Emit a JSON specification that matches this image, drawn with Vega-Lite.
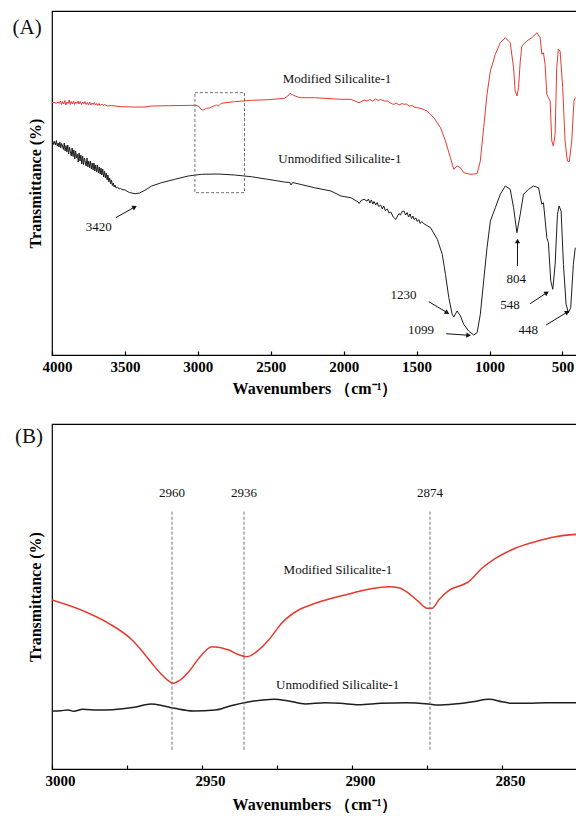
{
  "$schema": "https://vega.github.io/schema/vega-lite/v6.json",
  "padding": {"left": 11, "top": 10, "right": 0, "bottom": 0},
  "background": "white",
  "spacing": 26,
  "config": {
    "view": {"stroke": "#000", "strokeWidth": 1.2},
    "font": "Liberation Serif",
    "axis": {"grid": false, "labelColor": "#000", "titleColor": "#000", "domainColor": "#000", "tickColor": "#000"}
  },
  "datasets": {
    "specA": [
      {"wn": 4000, "t": 252.3, "series": "Modified"}, {"wn": 3985, "t": 252.5, "series": "Modified"}, {"wn": 3970, "t": 251.8, "series": "Modified"}, {"wn": 3958, "t": 253, "series": "Modified"}, {"wn": 3950, "t": 251.5, "series": "Modified"}, {"wn": 3942, "t": 254, "series": "Modified"}, {"wn": 3935, "t": 250.5, "series": "Modified"}, {"wn": 3928, "t": 253.5, "series": "Modified"}, {"wn": 3920, "t": 251, "series": "Modified"}, {"wn": 3912, "t": 254.5, "series": "Modified"}, {"wn": 3905, "t": 250, "series": "Modified"}, {"wn": 3898, "t": 253, "series": "Modified"}, {"wn": 3890, "t": 251.5, "series": "Modified"}, {"wn": 3882, "t": 255, "series": "Modified"}, {"wn": 3875, "t": 250.5, "series": "Modified"}, {"wn": 3868, "t": 253.5, "series": "Modified"}, {"wn": 3860, "t": 251, "series": "Modified"}, {"wn": 3852, "t": 254, "series": "Modified"}, {"wn": 3845, "t": 250.5, "series": "Modified"}, {"wn": 3838, "t": 253, "series": "Modified"}, {"wn": 3830, "t": 251.5, "series": "Modified"}, {"wn": 3822, "t": 254, "series": "Modified"}, {"wn": 3815, "t": 251, "series": "Modified"}, {"wn": 3806, "t": 253.5, "series": "Modified"}, {"wn": 3798, "t": 250.5, "series": "Modified"}, {"wn": 3790, "t": 253, "series": "Modified"}, {"wn": 3782, "t": 251, "series": "Modified"}, {"wn": 3774, "t": 253.5, "series": "Modified"}, {"wn": 3766, "t": 250.5, "series": "Modified"}, {"wn": 3758, "t": 252.5, "series": "Modified"}, {"wn": 3750, "t": 250, "series": "Modified"}, {"wn": 3742, "t": 253, "series": "Modified"}, {"wn": 3734, "t": 250, "series": "Modified"}, {"wn": 3726, "t": 252, "series": "Modified"}, {"wn": 3718, "t": 250.5, "series": "Modified"}, {"wn": 3710, "t": 252.5, "series": "Modified"}, {"wn": 3702, "t": 250, "series": "Modified"}, {"wn": 3694, "t": 251.5, "series": "Modified"}, {"wn": 3686, "t": 249.5, "series": "Modified"}, {"wn": 3678, "t": 251.5, "series": "Modified"}, {"wn": 3670, "t": 249.5, "series": "Modified"}, {"wn": 3660, "t": 251, "series": "Modified"}, {"wn": 3650, "t": 249.5, "series": "Modified"}, {"wn": 3640, "t": 250.5, "series": "Modified"}, {"wn": 3620, "t": 249, "series": "Modified"}, {"wn": 3590, "t": 249.5, "series": "Modified"}, {"wn": 3568, "t": 249, "series": "Modified"}, {"wn": 3522, "t": 248.3, "series": "Modified"}, {"wn": 3431, "t": 248, "series": "Modified"}, {"wn": 3363, "t": 248, "series": "Modified"}, {"wn": 3317, "t": 249, "series": "Modified"}, {"wn": 3203, "t": 249.3, "series": "Modified"}, {"wn": 3021, "t": 249.7, "series": "Modified"}, {"wn": 2995, "t": 249, "series": "Modified"}, {"wn": 2980, "t": 246, "series": "Modified"}, {"wn": 2964, "t": 244.7, "series": "Modified"}, {"wn": 2950, "t": 246, "series": "Modified"}, {"wn": 2941, "t": 246.7, "series": "Modified"}, {"wn": 2920, "t": 247, "series": "Modified"}, {"wn": 2907, "t": 248, "series": "Modified"}, {"wn": 2880, "t": 249.5, "series": "Modified"}, {"wn": 2873, "t": 250, "series": "Modified"}, {"wn": 2861, "t": 248.7, "series": "Modified"}, {"wn": 2839, "t": 251.7, "series": "Modified"}, {"wn": 2748, "t": 253.3, "series": "Modified"}, {"wn": 2634, "t": 254.7, "series": "Modified"}, {"wn": 2520, "t": 255.3, "series": "Modified"}, {"wn": 2406, "t": 256.7, "series": "Modified"}, {"wn": 2383, "t": 259, "series": "Modified"}, {"wn": 2367, "t": 261.7, "series": "Modified"}, {"wn": 2349, "t": 260, "series": "Modified"}, {"wn": 2315, "t": 258, "series": "Modified"}, {"wn": 2292, "t": 257.3, "series": "Modified"}, {"wn": 2201, "t": 257.3, "series": "Modified"}, {"wn": 2019, "t": 255.7, "series": "Modified"}, {"wn": 1951, "t": 255.7, "series": "Modified"}, {"wn": 1894, "t": 252.3, "series": "Modified"}, {"wn": 1860, "t": 255, "series": "Modified"}, {"wn": 1840, "t": 254, "series": "Modified"}, {"wn": 1820, "t": 255.5, "series": "Modified"}, {"wn": 1800, "t": 254, "series": "Modified"}, {"wn": 1780, "t": 256, "series": "Modified"}, {"wn": 1760, "t": 254.5, "series": "Modified"}, {"wn": 1746, "t": 255.5, "series": "Modified"}, {"wn": 1720, "t": 254, "series": "Modified"}, {"wn": 1700, "t": 254, "series": "Modified"}, {"wn": 1680, "t": 252, "series": "Modified"}, {"wn": 1665, "t": 251, "series": "Modified"}, {"wn": 1655, "t": 250.7, "series": "Modified"}, {"wn": 1640, "t": 252, "series": "Modified"}, {"wn": 1620, "t": 250, "series": "Modified"}, {"wn": 1600, "t": 251.5, "series": "Modified"}, {"wn": 1587, "t": 250.7, "series": "Modified"}, {"wn": 1570, "t": 251, "series": "Modified"}, {"wn": 1550, "t": 249, "series": "Modified"}, {"wn": 1530, "t": 249.5, "series": "Modified"}, {"wn": 1518, "t": 248, "series": "Modified"}, {"wn": 1500, "t": 247.5, "series": "Modified"}, {"wn": 1460, "t": 246, "series": "Modified"}, {"wn": 1427, "t": 244, "series": "Modified"}, {"wn": 1382, "t": 237.3, "series": "Modified"}, {"wn": 1336, "t": 227.3, "series": "Modified"}, {"wn": 1302, "t": 214, "series": "Modified"}, {"wn": 1268, "t": 197.3, "series": "Modified"}, {"wn": 1245, "t": 185.7, "series": "Modified"}, {"wn": 1222, "t": 189, "series": "Modified"}, {"wn": 1199, "t": 187.3, "series": "Modified"}, {"wn": 1177, "t": 182.3, "series": "Modified"}, {"wn": 1131, "t": 180.7, "series": "Modified"}, {"wn": 1085, "t": 181.3, "series": "Modified"}, {"wn": 1063, "t": 194, "series": "Modified"}, {"wn": 1040, "t": 227.3, "series": "Modified"}, {"wn": 1017, "t": 260.7, "series": "Modified"}, {"wn": 994, "t": 284, "series": "Modified"}, {"wn": 960, "t": 300.7, "series": "Modified"}, {"wn": 926, "t": 312.3, "series": "Modified"}, {"wn": 892, "t": 317.3, "series": "Modified"}, {"wn": 858, "t": 312.3, "series": "Modified"}, {"wn": 835, "t": 287.3, "series": "Modified"}, {"wn": 824, "t": 264, "series": "Modified"}, {"wn": 812, "t": 259, "series": "Modified"}, {"wn": 801, "t": 267.3, "series": "Modified"}, {"wn": 789, "t": 294, "series": "Modified"}, {"wn": 778, "t": 309, "series": "Modified"}, {"wn": 744, "t": 314, "series": "Modified"}, {"wn": 710, "t": 317.3, "series": "Modified"}, {"wn": 675, "t": 322.3, "series": "Modified"}, {"wn": 653, "t": 317.3, "series": "Modified"}, {"wn": 641, "t": 300.7, "series": "Modified"}, {"wn": 630, "t": 302.3, "series": "Modified"}, {"wn": 619, "t": 290.7, "series": "Modified"}, {"wn": 607, "t": 260.7, "series": "Modified"}, {"wn": 596, "t": 257.3, "series": "Modified"}, {"wn": 584, "t": 254, "series": "Modified"}, {"wn": 573, "t": 214, "series": "Modified"}, {"wn": 562, "t": 209, "series": "Modified"}, {"wn": 550, "t": 220.7, "series": "Modified"}, {"wn": 539, "t": 287.3, "series": "Modified"}, {"wn": 528, "t": 305.7, "series": "Modified"}, {"wn": 516, "t": 304, "series": "Modified"}, {"wn": 498, "t": 267.3, "series": "Modified"}, {"wn": 482, "t": 214, "series": "Modified"}, {"wn": 466, "t": 194, "series": "Modified"}, {"wn": 453, "t": 193.3, "series": "Modified"}, {"wn": 436, "t": 214, "series": "Modified"}, {"wn": 421, "t": 254, "series": "Modified"}, {"wn": 412, "t": 257.3, "series": "Modified"},
      {"wn": 4000, "t": 212, "series": "Unmodified"}, {"wn": 3994, "t": 214, "series": "Unmodified"}, {"wn": 3988, "t": 210.5, "series": "Unmodified"}, {"wn": 3982, "t": 213.5, "series": "Unmodified"}, {"wn": 3976, "t": 210, "series": "Unmodified"}, {"wn": 3970, "t": 214.5, "series": "Unmodified"}, {"wn": 3964, "t": 209, "series": "Unmodified"}, {"wn": 3958, "t": 212, "series": "Unmodified"}, {"wn": 3952, "t": 208, "series": "Unmodified"}, {"wn": 3946, "t": 213, "series": "Unmodified"}, {"wn": 3940, "t": 207, "series": "Unmodified"}, {"wn": 3934, "t": 211.5, "series": "Unmodified"}, {"wn": 3928, "t": 209, "series": "Unmodified"}, {"wn": 3922, "t": 205.5, "series": "Unmodified"}, {"wn": 3916, "t": 212, "series": "Unmodified"}, {"wn": 3910, "t": 204, "series": "Unmodified"}, {"wn": 3904, "t": 209.5, "series": "Unmodified"}, {"wn": 3898, "t": 203, "series": "Unmodified"}, {"wn": 3892, "t": 210, "series": "Unmodified"}, {"wn": 3886, "t": 201, "series": "Unmodified"}, {"wn": 3880, "t": 208, "series": "Unmodified"}, {"wn": 3874, "t": 203, "series": "Unmodified"}, {"wn": 3868, "t": 199, "series": "Unmodified"}, {"wn": 3862, "t": 207, "series": "Unmodified"}, {"wn": 3856, "t": 198.5, "series": "Unmodified"}, {"wn": 3850, "t": 205, "series": "Unmodified"}, {"wn": 3844, "t": 196, "series": "Unmodified"}, {"wn": 3838, "t": 204, "series": "Unmodified"}, {"wn": 3832, "t": 197, "series": "Unmodified"}, {"wn": 3826, "t": 201, "series": "Unmodified"}, {"wn": 3820, "t": 193, "series": "Unmodified"}, {"wn": 3814, "t": 202, "series": "Unmodified"}, {"wn": 3808, "t": 194, "series": "Unmodified"}, {"wn": 3802, "t": 200, "series": "Unmodified"}, {"wn": 3796, "t": 191, "series": "Unmodified"}, {"wn": 3790, "t": 199, "series": "Unmodified"}, {"wn": 3784, "t": 190, "series": "Unmodified"}, {"wn": 3778, "t": 197, "series": "Unmodified"}, {"wn": 3772, "t": 193, "series": "Unmodified"}, {"wn": 3766, "t": 189, "series": "Unmodified"}, {"wn": 3760, "t": 197, "series": "Unmodified"}, {"wn": 3754, "t": 188, "series": "Unmodified"}, {"wn": 3748, "t": 194, "series": "Unmodified"}, {"wn": 3742, "t": 187, "series": "Unmodified"}, {"wn": 3736, "t": 194, "series": "Unmodified"}, {"wn": 3730, "t": 186, "series": "Unmodified"}, {"wn": 3724, "t": 192, "series": "Unmodified"}, {"wn": 3718, "t": 185, "series": "Unmodified"}, {"wn": 3712, "t": 192, "series": "Unmodified"}, {"wn": 3706, "t": 184, "series": "Unmodified"}, {"wn": 3700, "t": 190, "series": "Unmodified"}, {"wn": 3694, "t": 183, "series": "Unmodified"}, {"wn": 3688, "t": 190, "series": "Unmodified"}, {"wn": 3682, "t": 182, "series": "Unmodified"}, {"wn": 3676, "t": 188, "series": "Unmodified"}, {"wn": 3670, "t": 181, "series": "Unmodified"}, {"wn": 3664, "t": 187, "series": "Unmodified"}, {"wn": 3658, "t": 180, "series": "Unmodified"}, {"wn": 3652, "t": 186, "series": "Unmodified"}, {"wn": 3646, "t": 178, "series": "Unmodified"}, {"wn": 3640, "t": 184, "series": "Unmodified"}, {"wn": 3634, "t": 177, "series": "Unmodified"}, {"wn": 3628, "t": 182, "series": "Unmodified"}, {"wn": 3622, "t": 175, "series": "Unmodified"}, {"wn": 3616, "t": 180, "series": "Unmodified"}, {"wn": 3610, "t": 173, "series": "Unmodified"}, {"wn": 3604, "t": 177, "series": "Unmodified"}, {"wn": 3598, "t": 171, "series": "Unmodified"}, {"wn": 3592, "t": 175, "series": "Unmodified"}, {"wn": 3586, "t": 169.5, "series": "Unmodified"}, {"wn": 3580, "t": 172, "series": "Unmodified"}, {"wn": 3574, "t": 168, "series": "Unmodified"}, {"wn": 3568, "t": 170, "series": "Unmodified"}, {"wn": 3560, "t": 167, "series": "Unmodified"}, {"wn": 3550, "t": 168, "series": "Unmodified"}, {"wn": 3540, "t": 166, "series": "Unmodified"}, {"wn": 3530, "t": 166.5, "series": "Unmodified"}, {"wn": 3520, "t": 165.5, "series": "Unmodified"}, {"wn": 3499, "t": 165, "series": "Unmodified"}, {"wn": 3470, "t": 162.5, "series": "Unmodified"}, {"wn": 3431, "t": 161.3, "series": "Unmodified"}, {"wn": 3400, "t": 162, "series": "Unmodified"}, {"wn": 3363, "t": 164.7, "series": "Unmodified"}, {"wn": 3317, "t": 169, "series": "Unmodified"}, {"wn": 3249, "t": 172.3, "series": "Unmodified"}, {"wn": 3158, "t": 175.7, "series": "Unmodified"}, {"wn": 3066, "t": 179, "series": "Unmodified"}, {"wn": 2975, "t": 180.7, "series": "Unmodified"}, {"wn": 2861, "t": 181, "series": "Unmodified"}, {"wn": 2748, "t": 180, "series": "Unmodified"}, {"wn": 2634, "t": 178.3, "series": "Unmodified"}, {"wn": 2520, "t": 175.7, "series": "Unmodified"}, {"wn": 2406, "t": 173, "series": "Unmodified"}, {"wn": 2370, "t": 172.5, "series": "Unmodified"}, {"wn": 2361, "t": 170, "series": "Unmodified"}, {"wn": 2350, "t": 172.5, "series": "Unmodified"}, {"wn": 2292, "t": 170.5, "series": "Unmodified"}, {"wn": 2201, "t": 167.3, "series": "Unmodified"}, {"wn": 2087, "t": 164, "series": "Unmodified"}, {"wn": 2019, "t": 159, "series": "Unmodified"}, {"wn": 1951, "t": 157.3, "series": "Unmodified"}, {"wn": 1900, "t": 153, "series": "Unmodified"}, {"wn": 1894, "t": 151.5, "series": "Unmodified"}, {"wn": 1880, "t": 154.5, "series": "Unmodified"}, {"wn": 1860, "t": 155.7, "series": "Unmodified"}, {"wn": 1840, "t": 154, "series": "Unmodified"}, {"wn": 1830, "t": 156, "series": "Unmodified"}, {"wn": 1820, "t": 152, "series": "Unmodified"}, {"wn": 1810, "t": 155, "series": "Unmodified"}, {"wn": 1800, "t": 151, "series": "Unmodified"}, {"wn": 1792, "t": 153.5, "series": "Unmodified"}, {"wn": 1780, "t": 150, "series": "Unmodified"}, {"wn": 1770, "t": 152.5, "series": "Unmodified"}, {"wn": 1760, "t": 148.5, "series": "Unmodified"}, {"wn": 1746, "t": 150, "series": "Unmodified"}, {"wn": 1735, "t": 146, "series": "Unmodified"}, {"wn": 1725, "t": 149, "series": "Unmodified"}, {"wn": 1715, "t": 144.5, "series": "Unmodified"}, {"wn": 1700, "t": 146, "series": "Unmodified"}, {"wn": 1690, "t": 142, "series": "Unmodified"}, {"wn": 1677, "t": 143, "series": "Unmodified"}, {"wn": 1660, "t": 138, "series": "Unmodified"}, {"wn": 1643, "t": 135.7, "series": "Unmodified"}, {"wn": 1630, "t": 139, "series": "Unmodified"}, {"wn": 1621, "t": 141.5, "series": "Unmodified"}, {"wn": 1610, "t": 140, "series": "Unmodified"}, {"wn": 1600, "t": 143.5, "series": "Unmodified"}, {"wn": 1587, "t": 144, "series": "Unmodified"}, {"wn": 1575, "t": 140, "series": "Unmodified"}, {"wn": 1565, "t": 142.5, "series": "Unmodified"}, {"wn": 1555, "t": 138, "series": "Unmodified"}, {"wn": 1545, "t": 141, "series": "Unmodified"}, {"wn": 1535, "t": 136.5, "series": "Unmodified"}, {"wn": 1525, "t": 139, "series": "Unmodified"}, {"wn": 1518, "t": 135.5, "series": "Unmodified"}, {"wn": 1505, "t": 137, "series": "Unmodified"}, {"wn": 1495, "t": 133.5, "series": "Unmodified"}, {"wn": 1485, "t": 135.5, "series": "Unmodified"}, {"wn": 1475, "t": 131.5, "series": "Unmodified"}, {"wn": 1465, "t": 133.5, "series": "Unmodified"}, {"wn": 1450, "t": 131.3, "series": "Unmodified"}, {"wn": 1404, "t": 127.3, "series": "Unmodified"}, {"wn": 1358, "t": 115.7, "series": "Unmodified"}, {"wn": 1324, "t": 100.7, "series": "Unmodified"}, {"wn": 1302, "t": 80.7, "series": "Unmodified"}, {"wn": 1279, "t": 57.3, "series": "Unmodified"}, {"wn": 1256, "t": 40.7, "series": "Unmodified"}, {"wn": 1245, "t": 38, "series": "Unmodified"}, {"wn": 1222, "t": 44, "series": "Unmodified"}, {"wn": 1199, "t": 39, "series": "Unmodified"}, {"wn": 1177, "t": 30.7, "series": "Unmodified"}, {"wn": 1143, "t": 24, "series": "Unmodified"}, {"wn": 1108, "t": 20, "series": "Unmodified"}, {"wn": 1085, "t": 22.3, "series": "Unmodified"}, {"wn": 1063, "t": 40.7, "series": "Unmodified"}, {"wn": 1040, "t": 74, "series": "Unmodified"}, {"wn": 1017, "t": 107.3, "series": "Unmodified"}, {"wn": 994, "t": 134, "series": "Unmodified"}, {"wn": 960, "t": 147.3, "series": "Unmodified"}, {"wn": 926, "t": 160.7, "series": "Unmodified"}, {"wn": 892, "t": 169, "series": "Unmodified"}, {"wn": 858, "t": 165.7, "series": "Unmodified"}, {"wn": 835, "t": 147.3, "series": "Unmodified"}, {"wn": 812, "t": 122.3, "series": "Unmodified"}, {"wn": 789, "t": 140.7, "series": "Unmodified"}, {"wn": 767, "t": 160.7, "series": "Unmodified"}, {"wn": 733, "t": 165.7, "series": "Unmodified"}, {"wn": 699, "t": 169, "series": "Unmodified"}, {"wn": 664, "t": 167.3, "series": "Unmodified"}, {"wn": 641, "t": 150.7, "series": "Unmodified"}, {"wn": 630, "t": 152.3, "series": "Unmodified"}, {"wn": 607, "t": 117.3, "series": "Unmodified"}, {"wn": 596, "t": 112.3, "series": "Unmodified"}, {"wn": 580, "t": 74, "series": "Unmodified"}, {"wn": 566, "t": 65.7, "series": "Unmodified"}, {"wn": 550, "t": 90.7, "series": "Unmodified"}, {"wn": 534, "t": 140.7, "series": "Unmodified"}, {"wn": 523, "t": 149, "series": "Unmodified"}, {"wn": 509, "t": 144, "series": "Unmodified"}, {"wn": 493, "t": 90.7, "series": "Unmodified"}, {"wn": 475, "t": 50.7, "series": "Unmodified"}, {"wn": 459, "t": 42.3, "series": "Unmodified"}, {"wn": 443, "t": 47.3, "series": "Unmodified"}, {"wn": 425, "t": 90.7, "series": "Unmodified"}, {"wn": 412, "t": 107.3, "series": "Unmodified"}
    ],
    "boxA": [{"wn": 3020, "wn2": 2680, "t": 262.3, "t2": 162.3}],
    "textA": [
      {"wn": 2046, "t": 276, "label": "Modified Silicalite-1"},
      {"wn": 2026, "t": 196.3, "label": "Unmodified Silicalite-1"},
      {"wn": 3679, "t": 128, "label": "3420"},
      {"wn": 1589, "t": 60, "label": "1230"},
      {"wn": 1469, "t": 25, "label": "1099"},
      {"wn": 817, "t": 75.7, "label": "804"},
      {"wn": 860, "t": 50, "label": "548"},
      {"wn": 735, "t": 25, "label": "448"}
    ],
    "arrowsA": [
      {"wn": 3563, "t": 137.3, "wn2": 3433, "t2": 148, "angle": 61},
      {"wn": 1416, "t": 53.3, "wn2": 1290, "t2": 42.3, "angle": 121},
      {"wn": 1297, "t": 21.3, "wn2": 1143, "t2": 19.7, "angle": 94},
      {"wn": 808, "t": 89, "wn2": 808, "t2": 114, "angle": 0},
      {"wn": 721, "t": 51.3, "wn2": 607, "t2": 62.3, "angle": 57},
      {"wn": 612, "t": 30, "wn2": 466, "t2": 43, "angle": 59}
    ],
    "panelA": [{"wn": 4171, "t": 327, "label": "(A)"}],
    "specB": [
      {"wn": 3000, "t": 169, "series": "Modified"}, {"wn": 2988.9, "t": 157.3, "series": "Modified"}, {"wn": 2981.1, "t": 145.7, "series": "Modified"}, {"wn": 2973.3, "t": 129, "series": "Modified"}, {"wn": 2970, "t": 118, "series": "Modified"}, {"wn": 2966.7, "t": 105.7, "series": "Modified"}, {"wn": 2963.3, "t": 94, "series": "Modified"}, {"wn": 2959.4, "t": 85.7, "series": "Modified"}, {"wn": 2957.3, "t": 89, "series": "Modified"}, {"wn": 2954.4, "t": 97.3, "series": "Modified"}, {"wn": 2950.7, "t": 112, "series": "Modified"}, {"wn": 2946.7, "t": 122.3, "series": "Modified"}, {"wn": 2941.1, "t": 119, "series": "Modified"}, {"wn": 2938, "t": 114.5, "series": "Modified"}, {"wn": 2935, "t": 112.3, "series": "Modified"}, {"wn": 2931.1, "t": 119, "series": "Modified"}, {"wn": 2927.8, "t": 129, "series": "Modified"}, {"wn": 2923.3, "t": 146.3, "series": "Modified"}, {"wn": 2917.8, "t": 159, "series": "Modified"}, {"wn": 2912.2, "t": 165.7, "series": "Modified"}, {"wn": 2901.1, "t": 175, "series": "Modified"}, {"wn": 2895.6, "t": 179, "series": "Modified"}, {"wn": 2887.8, "t": 182.3, "series": "Modified"}, {"wn": 2884.4, "t": 181.3, "series": "Modified"}, {"wn": 2881.1, "t": 175.7, "series": "Modified"}, {"wn": 2877.8, "t": 167.3, "series": "Modified"}, {"wn": 2875, "t": 160.7, "series": "Modified"}, {"wn": 2873.3, "t": 160.7, "series": "Modified"}, {"wn": 2871.1, "t": 169, "series": "Modified"}, {"wn": 2867.8, "t": 178.3, "series": "Modified"}, {"wn": 2861.1, "t": 187.3, "series": "Modified"}, {"wn": 2856.7, "t": 200.7, "series": "Modified"}, {"wn": 2852.2, "t": 210.7, "series": "Modified"}, {"wn": 2845.6, "t": 220.7, "series": "Modified"}, {"wn": 2838.9, "t": 227.3, "series": "Modified"}, {"wn": 2832.2, "t": 232.3, "series": "Modified"}, {"wn": 2825, "t": 234.7, "series": "Modified"},
      {"wn": 3000, "t": 58, "series": "Unmodified"}, {"wn": 2997.1, "t": 58.3, "series": "Unmodified"}, {"wn": 2994.6, "t": 59, "series": "Unmodified"}, {"wn": 2992.8, "t": 57.7, "series": "Unmodified"}, {"wn": 2989.7, "t": 59.7, "series": "Unmodified"}, {"wn": 2984.8, "t": 59, "series": "Unmodified"}, {"wn": 2979.9, "t": 59.3, "series": "Unmodified"}, {"wn": 2972.5, "t": 61.7, "series": "Unmodified"}, {"wn": 2967, "t": 65, "series": "Unmodified"}, {"wn": 2962.7, "t": 63, "series": "Unmodified"}, {"wn": 2959.1, "t": 60.7, "series": "Unmodified"}, {"wn": 2952.9, "t": 58, "series": "Unmodified"}, {"wn": 2945.6, "t": 59, "series": "Unmodified"}, {"wn": 2940.7, "t": 63, "series": "Unmodified"}, {"wn": 2934.6, "t": 67, "series": "Unmodified"}, {"wn": 2929.7, "t": 69, "series": "Unmodified"}, {"wn": 2926, "t": 69.7, "series": "Unmodified"}, {"wn": 2921.1, "t": 68, "series": "Unmodified"}, {"wn": 2915.6, "t": 65, "series": "Unmodified"}, {"wn": 2908.8, "t": 66.3, "series": "Unmodified"}, {"wn": 2903.9, "t": 65.7, "series": "Unmodified"}, {"wn": 2897.8, "t": 64.3, "series": "Unmodified"}, {"wn": 2890.4, "t": 65.7, "series": "Unmodified"}, {"wn": 2881.9, "t": 66.3, "series": "Unmodified"}, {"wn": 2874.5, "t": 65, "series": "Unmodified"}, {"wn": 2871.4, "t": 64, "series": "Unmodified"}, {"wn": 2865.9, "t": 65, "series": "Unmodified"}, {"wn": 2859.8, "t": 67.3, "series": "Unmodified"}, {"wn": 2854.3, "t": 69.7, "series": "Unmodified"}, {"wn": 2850, "t": 67.3, "series": "Unmodified"}, {"wn": 2846.9, "t": 65.7, "series": "Unmodified"}, {"wn": 2841.4, "t": 65.7, "series": "Unmodified"}, {"wn": 2835.3, "t": 66.3, "series": "Unmodified"}, {"wn": 2825, "t": 66.3, "series": "Unmodified"}
    ],
    "peaksB": [
      {"wn": 2960, "t": 257.3, "t2": 17.3, "label": "2960", "tl": 276},
      {"wn": 2936, "t": 257.3, "t2": 17.3, "label": "2936", "tl": 276},
      {"wn": 2874, "t": 257.3, "t2": 17.3, "label": "2874", "tl": 276}
    ],
    "textB": [
      {"wn": 2904.7, "t": 199, "label": "Modified Silicalite-1"},
      {"wn": 2904.8, "t": 84, "label": "Unmodified Silicalite-1"}
    ],
    "panelB": [{"wn": 3007.7, "t": 332, "label": "(B)"}]
  },
  "vconcat": [
    {
      "width": 525,
      "height": 344,
      "layer": [
        {
          "data": {"name": "specA"},
          "mark": {"type": "line", "strokeWidth": 1, "clip": true},
          "encoding": {
            "x": {"field": "wn", "type": "quantitative",
              "scale": {"domain": [400, 4000], "reverse": true, "nice": false, "zero": false},
              "axis": {"values": [4000, 3750, 3500, 3250, 3000, 2750, 2500, 2250, 2000, 1750, 1500, 1250, 1000, 750, 500],
                "format": "d", "labelExpr": "datum.value % 500 === 0 ? datum.label : ''",
                "title": "Wavenumbers （cm⁻¹）", "tickSize": -4, "tickWidth": 1.2, "domainWidth": 1.2,
                "labelFont": "Liberation Serif", "labelFontWeight": "bold", "labelFontSize": 15, "labelPadding": 8,
                "labelFlush": true, "labelFlushOffset": 10, "labelOverlap": false,
                "titleFont": "Liberation Serif", "titleFontWeight": "bold", "titleFontSize": 16, "titlePadding": 6}},
            "y": {"field": "t", "type": "quantitative",
              "scale": {"domain": [0, 344], "nice": false, "zero": false},
              "axis": {"title": "Transmittance (%)", "labels": false, "ticks": false, "domain": false,
                "titleFont": "Liberation Serif", "titleFontWeight": "bold", "titleFontSize": 16, "titlePadding": 9}},
            "color": {"field": "series", "type": "nominal", "legend": null,
              "scale": {"domain": ["Modified", "Unmodified"], "range": ["#e8392f", "#1e1e1e"]}}
          }
        },
        {
          "data": {"name": "boxA"},
          "mark": {"type": "rect", "filled": false, "stroke": "#6e6e6e", "strokeWidth": 1, "strokeDash": [3, 2]},
          "encoding": {
            "x": {"field": "wn", "type": "quantitative"}, "x2": {"field": "wn2"},
            "y": {"field": "t", "type": "quantitative"}, "y2": {"field": "t2"}
          }
        },
        {
          "data": {"name": "textA"},
          "mark": {"type": "text", "font": "Liberation Serif", "fontSize": 13, "color": "#111", "baseline": "middle", "align": "center"},
          "encoding": {
            "x": {"field": "wn", "type": "quantitative"},
            "y": {"field": "t", "type": "quantitative"},
            "text": {"field": "label"}
          }
        },
        {
          "data": {"name": "arrowsA"},
          "mark": {"type": "rule", "color": "#111", "strokeWidth": 1},
          "encoding": {
            "x": {"field": "wn", "type": "quantitative"}, "x2": {"field": "wn2"},
            "y": {"field": "t", "type": "quantitative"}, "y2": {"field": "t2"}
          }
        },
        {
          "data": {"name": "arrowsA"},
          "mark": {"type": "point", "shape": "triangle-up", "filled": true, "color": "#111", "size": 28, "opacity": 1},
          "encoding": {
            "x": {"field": "wn2", "type": "quantitative"},
            "y": {"field": "t2", "type": "quantitative"},
            "angle": {"field": "angle", "type": "quantitative", "scale": null}
          }
        },
        {
          "data": {"name": "panelA"},
          "mark": {"type": "text", "font": "Liberation Serif", "fontSize": 21, "color": "#111", "baseline": "middle", "align": "center"},
          "encoding": {
            "x": {"field": "wn", "type": "quantitative"},
            "y": {"field": "t", "type": "quantitative"},
            "text": {"field": "label"}
          }
        }
      ]
    },
    {
      "width": 525,
      "height": 345,
      "layer": [
        {
          "data": {"name": "specB"},
          "mark": {"type": "line", "strokeWidth": 1.5, "interpolate": "monotone", "clip": true},
          "encoding": {
            "x": {"field": "wn", "type": "quantitative",
              "scale": {"domain": [2825, 3000], "reverse": true, "nice": false, "zero": false},
              "axis": {"values": [3000, 2975, 2950, 2925, 2900, 2875, 2850],
                "format": "d", "labelExpr": "datum.value % 50 === 0 ? datum.label : ''",
                "title": "Wavenumbers （cm⁻¹）", "tickSize": -4, "tickWidth": 1.2, "domainWidth": 1.2,
                "labelFont": "Liberation Serif", "labelFontWeight": "bold", "labelFontSize": 15, "labelPadding": 8,
                "labelFlush": false, "labelOffset": 8, "labelOverlap": false,
                "titleFont": "Liberation Serif", "titleFontWeight": "bold", "titleFontSize": 16, "titlePadding": 8}},
            "y": {"field": "t", "type": "quantitative",
              "scale": {"domain": [0, 345], "nice": false, "zero": false},
              "axis": {"title": "Transmittance (%)", "labels": false, "ticks": false, "domain": false,
                "titleFont": "Liberation Serif", "titleFontWeight": "bold", "titleFontSize": 16, "titlePadding": 9}},
            "color": {"field": "series", "type": "nominal", "legend": null,
              "scale": {"domain": ["Modified", "Unmodified"], "range": ["#e8392f", "#1e1e1e"]}}
          }
        },
        {
          "data": {"name": "peaksB"},
          "mark": {"type": "rule", "color": "#6e6e6e", "strokeWidth": 1, "strokeDash": [3, 2]},
          "encoding": {
            "x": {"field": "wn", "type": "quantitative"},
            "y": {"field": "t", "type": "quantitative"}, "y2": {"field": "t2"}
          }
        },
        {
          "data": {"name": "peaksB"},
          "mark": {"type": "text", "font": "Liberation Serif", "fontSize": 13, "color": "#111", "baseline": "middle", "align": "center"},
          "encoding": {
            "x": {"field": "wn", "type": "quantitative"},
            "y": {"field": "tl", "type": "quantitative"},
            "text": {"field": "label"}
          }
        },
        {
          "data": {"name": "textB"},
          "mark": {"type": "text", "font": "Liberation Serif", "fontSize": 13, "color": "#111", "baseline": "middle", "align": "center"},
          "encoding": {
            "x": {"field": "wn", "type": "quantitative"},
            "y": {"field": "t", "type": "quantitative"},
            "text": {"field": "label"}
          }
        },
        {
          "data": {"name": "panelB"},
          "mark": {"type": "text", "font": "Liberation Serif", "fontSize": 21, "color": "#111", "baseline": "middle", "align": "center"},
          "encoding": {
            "x": {"field": "wn", "type": "quantitative"},
            "y": {"field": "t", "type": "quantitative"},
            "text": {"field": "label"}
          }
        }
      ]
    }
  ]
}
